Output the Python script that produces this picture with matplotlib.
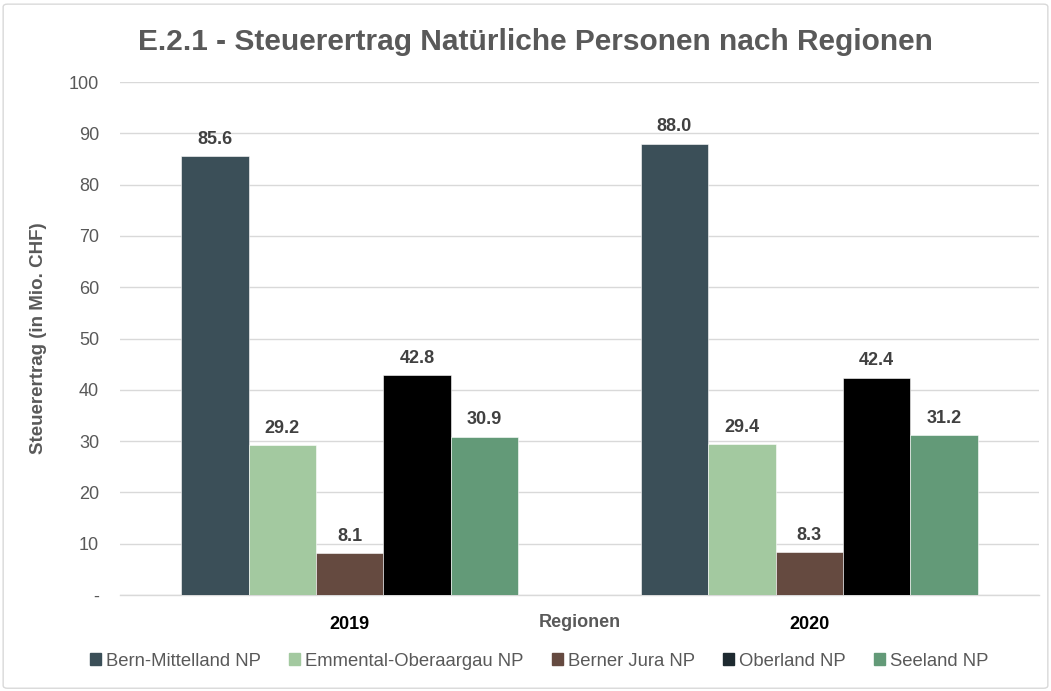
# E.2.1 - Steuerertrag natuerliche Personen nach Regionen (2019 / 2020)

import numpy as np
import matplotlib.pyplot as plt
from matplotlib.patches import FancyBboxPatch

# Data
years = ['2019', '2020']
regions = ['Bern-Mittelland NP', 'Emmental-Oberaargau NP', 'Berner Jura NP',
           'Oberland NP', 'Seeland NP']
bern_mittelland = [85.6, 88.0]
emmental_oberaargau = [29.2, 29.4]
berner_jura = [8.1, 8.3]
oberland = [42.8, 42.4]
seeland = [30.9, 31.2]
yticks = [0, 10, 20, 30, 40, 50, 60, 70, 80, 90, 100]
ytick_labels = ['-', '10', '20', '30', '40', '50', '60', '70', '80', '90', '100']

series = [bern_mittelland, emmental_oberaargau, berner_jura, oberland, seeland]
colors = ['#3B4F58', '#A3C9A0', '#654A40', '#000000', '#639A78']
legend_colors = ['#3B4F58', '#A3C9A0', '#654A40', '#1E2A30', '#639A78']

plt.rcParams['font.family'] = ['Liberation Sans', 'DejaVu Sans']
grey = '#595959'

fig = plt.figure(figsize=(10.51, 6.91), dpi=100)
ax = fig.add_axes([0.1142, 0.1389, 0.8744, 0.7424])

# chart frame like the Excel export
frame = FancyBboxPatch((0.003, 0.004), 0.994, 0.99, boxstyle='round,pad=0,rounding_size=0.004',
                       transform=fig.transFigure, fill=False, edgecolor='#D9D9D9', linewidth=1.0)
fig.patches.append(frame)

x = np.arange(len(years))
width = 0.1468
for i, (vals, col) in enumerate(zip(series, colors)):
    offs = (i - 2) * width
    bars = ax.bar(x + offs, vals, width, color=col, edgecolor='white', linewidth=0.4,
                  label=regions[i], zorder=3)
    for b, v in zip(bars, vals):
        ax.text(b.get_x() + b.get_width() / 2, v + 1.6, '{:.1f}'.format(v),
                ha='center', va='bottom', fontsize=13, fontweight='bold', color='#404040')

ax.set_xlim(-0.5, 1.5)
ax.set_ylim(0, 100)
ax.set_yticks(yticks)
ax.set_yticklabels(ytick_labels, fontsize=13, color=grey)
ax.set_xticks(x)
ax.set_xticklabels(years, fontsize=13, fontweight='bold', color='black')
ax.tick_params(axis='both', length=0)
ax.tick_params(axis='y', pad=15)
ax.tick_params(axis='x', pad=15)
ax.grid(axis='y', color='#D9D9D9', linewidth=1.0, zorder=0)
for s in ['top', 'right', 'left']:
    ax.spines[s].set_visible(False)
ax.spines['bottom'].set_color('#D9D9D9')
ax.spines['bottom'].set_linewidth(1.0)

ax.set_ylabel('Steuerertrag (in Mio. CHF)', fontsize=13.5, fontweight='bold', color=grey, labelpad=16)
ax.text(0.5, -0.037, 'Regionen', transform=ax.transAxes, ha='center', va='top',
        fontsize=13, fontweight='bold', color=grey)

fig.suptitle('E.2.1 - Steuerertrag Natürliche Personen nach Regionen', x=0.509, y=0.96,
             fontsize=21.5, fontweight='bold', color=grey)

handles = [plt.Rectangle((0, 0), 1, 1, color=c) for c in legend_colors]
leg = fig.legend(handles, regions, loc='center', bbox_to_anchor=(0.513, 0.043), ncol=5,
                 frameon=False, fontsize=13.3, handlelength=0.6, handleheight=0.6,
                 handletextpad=0.25, columnspacing=1.55)
for t in leg.get_texts():
    t.set_color(grey)

fig.savefig('out.png', dpi=100)
